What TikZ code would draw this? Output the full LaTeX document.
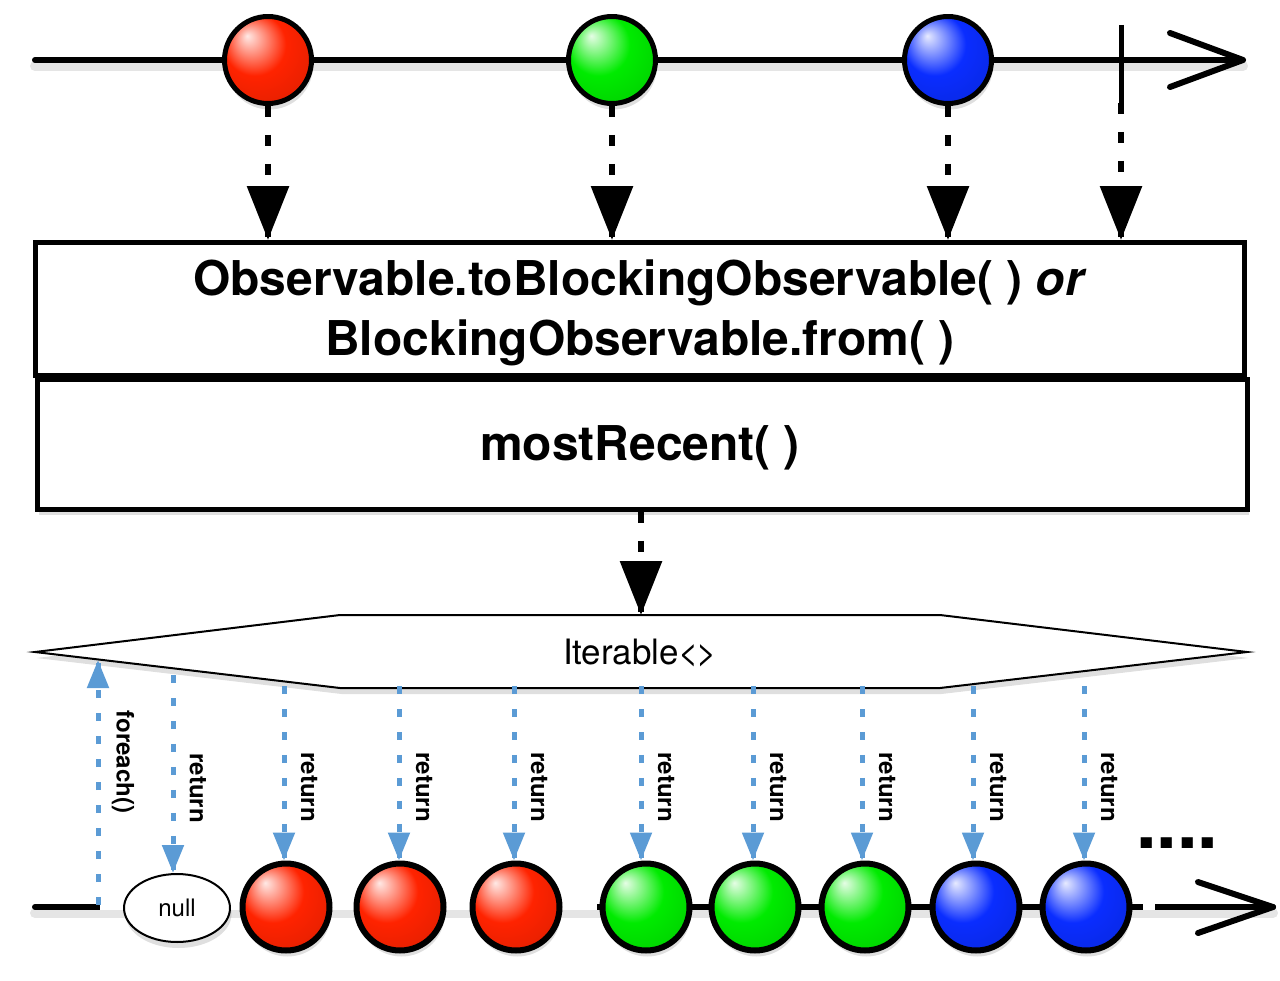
\documentclass[tikz,border=0pt]{standalone}
\usepackage{fontspec}
\setmainfont{TeX Gyre Heros}
\usetikzlibrary{arrows.meta,shadows,shapes.geometric,calc}
\definecolor{rxblue}{RGB}{91,155,213}
\definecolor{cred}{RGB}{255,35,0}
\definecolor{cgreen}{RGB}{0,235,0}
\definecolor{cblue}{RGB}{10,45,255}
\pgfdeclareradialshading{redball}{\pgfpoint{-12bp}{14bp}}{color(0bp)=(cred!10!white); color(8bp)=(cred!50!white); color(18bp)=(cred); color(30bp)=(cred!92!black); color(40bp)=(cred!70!black); color(50bp)=(cred!45!black)}
\pgfdeclareradialshading{greenball}{\pgfpoint{-12bp}{14bp}}{color(0bp)=(cgreen!10!white); color(8bp)=(cgreen!50!white); color(18bp)=(cgreen); color(30bp)=(cgreen!92!black); color(40bp)=(cgreen!70!black); color(50bp)=(cgreen!45!black)}
\pgfdeclareradialshading{blueball}{\pgfpoint{-12bp}{14bp}}{color(0bp)=(cblue!10!white); color(8bp)=(cblue!50!white); color(18bp)=(cblue); color(30bp)=(cblue!92!black); color(40bp)=(cblue!70!black); color(50bp)=(cblue!45!black)}
\begin{document}
\begin{tikzpicture}[x=0.02cm,y=-0.02cm,
 every node/.style={inner sep=0pt},
 shdw/.style={drop shadow={opacity=0.25,shadow xshift=0.03cm,shadow yshift=-0.12cm}},
 lshadow/.style={line width=0.2cm,black,opacity=0.1,line cap=round},
 tline/.style={line width=0.12cm,line cap=round,line join=round},
 ball/.style={circle,draw=black,line width=0.1cm,minimum size=1.74cm,shade,shdw},
 bball/.style={ball,line width=0.12cm},
 rb/.style={shading=redball}, gb/.style={shading=greenball}, bb/.style={shading=blueball},
 box/.style={draw=black,line width=0.1cm,fill=white,shdw},
 boxtext/.style={align=center,font=\fontsize{27.3}{34.1}\selectfont\bfseries},
 blkline/.style={line width=0.12cm,dash pattern=on 0.22cm off 0.36cm,line cap=butt,shorten >=1.0cm},
 blktip/.style={line width=0.12cm,-{Triangle[length=1.08cm,width=0.82cm]}},
 bluline/.style={draw=rxblue,line width=0.1cm,dash pattern=on 0.16cm off 0.3cm,line cap=butt,shorten >=0.5cm},
 blutip/.style={draw=rxblue,line width=0.1cm,-{Triangle[length=0.56cm,width=0.42cm]}},
 lbl/.style={rotate=-90,font=\fontsize{13.7}{16}\selectfont\bfseries},
]
\useasboundingbox (0,0) rectangle (1280,980);

% ---------- top timeline ----------
\coordinate (tl0) at (35,60);
\coordinate (tl1) at (1243,60);
\coordinate (ta1) at (1170,33);
\coordinate (ta2) at (1170,87);
\draw[lshadow] ($(tl0)+(0,6)$) -- ($(tl1)+(0,6)$);
\draw[tline] (tl0) -- (tl1);
\draw[tline] (ta1) -- (tl1) -- (ta2);
\coordinate (tktop) at (1121,25);
\coordinate (tk) at (1121,103);
\draw[line width=0.1cm] (tktop) -- (tk);

\node[ball,rb] (t1) at (268,60) {};
\node[ball,gb] (t2) at (612,60) {};
\node[ball,bb] (t3) at (948,60) {};

% ---------- boxes ----------
\node[box,minimum width=24.18cm,minimum height=2.66cm] (b1) at (640,309) {};
\node[box,minimum width=24.2cm,minimum height=2.6cm] (b2) at (642.5,444.5) {};
\node[boxtext] (b1t) at (640,313)
  {Observable.toBlockingObservable( ) \textit{or}\\BlockingObservable.from( )};
\node[boxtext] (b2t) at (640,448) {mostRecent( )};

\foreach \n in {t1,t2,t3}{
  \coordinate (e\n) at (\n.south |- b1.north);
  \draw[blkline] (\n.south) -- (e\n);
  \draw[blktip] ($(e\n)+(0,-3)$) -- (e\n);
}
\coordinate (etk) at (tk |- b1.north);
\draw[blkline] (tk) -- (etk);
\draw[blktip] ($(etk)+(0,-3)$) -- (etk);

% ---------- iterable ----------
\coordinate (hl) at (35,652);
\coordinate (htl) at (340,615);
\coordinate (htr) at (940,615);
\coordinate (hr) at (1247,652);
\coordinate (hbr) at (940,688);
\coordinate (hbl) at (340,688);
\draw[fill=white,line width=0.04cm,shdw] (hl) -- (htl) -- (htr) -- (hr) -- (hbr) -- (hbl) -- cycle;
\node[font=\fontsize{19.9}{24}\selectfont] (it) at (640,653) {Iterable<\kern-0.08em>};
\coordinate (itop) at (641,615);
\coordinate (b2b) at (b2.south -| itop);
\draw[blkline] (b2b) -- (itop);
\draw[blktip] ($(itop)+(0,-3)$) -- (itop);

% ---------- bottom timeline ----------
\coordinate (bl0) at (35,907);
\coordinate (bl1) at (1273,907);
\coordinate (ba1) at (1198,882);
\coordinate (ba2) at (1198,933);
\coordinate (w0) at (100,907);
\coordinate (w1) at (597,907);
\coordinate (w2) at (1143,907);
\coordinate (w3) at (1155,907);
\draw[lshadow] ($(bl0)+(0,6)$) -- ($(bl1)+(0,6)$);
\draw[tline] (bl0) -- (bl1);
\draw[tline] (ba1) -- (bl1) -- (ba2);
\draw[line width=0.12cm,white] (w0) -- (w1);
\draw[line width=0.12cm,white] (w2) -- (w3);

\node[ellipse,draw=black,fill=white,line width=0.04cm,minimum width=2.12cm,minimum height=1.36cm,shdw,font=\fontsize{13.7}{16}\selectfont] (n0) at (177,908) {null};
\node[bball,rb] (c1) at (286,907) {};
\node[bball,rb] (c2) at (400,907) {};
\node[bball,rb] (c3) at (516,907) {};
\node[bball,gb] (c4) at (646,907) {};
\node[bball,gb] (c5) at (755,907) {};
\node[bball,gb] (c6) at (865,907) {};
\node[bball,bb] (c7) at (976,907) {};
\node[bball,bb] (c8) at (1086,907) {};

\node[anchor=base west,font=\fontsize{42}{42}\selectfont\bfseries] (dots) at (1136,848) {....};

% ---------- foreach / return arrows ----------
\coordinate (fe0) at (98,905);
\coordinate (fe1) at (98,660);
\draw[bluline] (fe0) -- (fe1);
\draw[blutip] ($(fe1)+(0,3)$) -- (fe1);
\node[lbl] (lfe) at (123,762) {foreach()};

\coordinate (r0) at (173,675);
\coordinate (e0) at (r0 |- n0.north);
\draw[bluline] (r0) -- (e0);
\draw[blutip] ($(e0)+(0,-3)$) -- (e0);
\node[lbl] (l0) at (198,788) {return};

\foreach \i/\x in {1/284,2/399,3/514,4/641,5/753,6/862,7/973,8/1084}{
  \coordinate (r\i) at (\x,686);
  \coordinate (e\i) at (r\i |- c\i.north);
  \draw[bluline] (r\i) -- (e\i);
  \draw[blutip] ($(e\i)+(0,-3)$) -- (e\i);
  \node[lbl] (l\i) at (\x+25,787) {return};
}
\end{tikzpicture}
\end{document}
